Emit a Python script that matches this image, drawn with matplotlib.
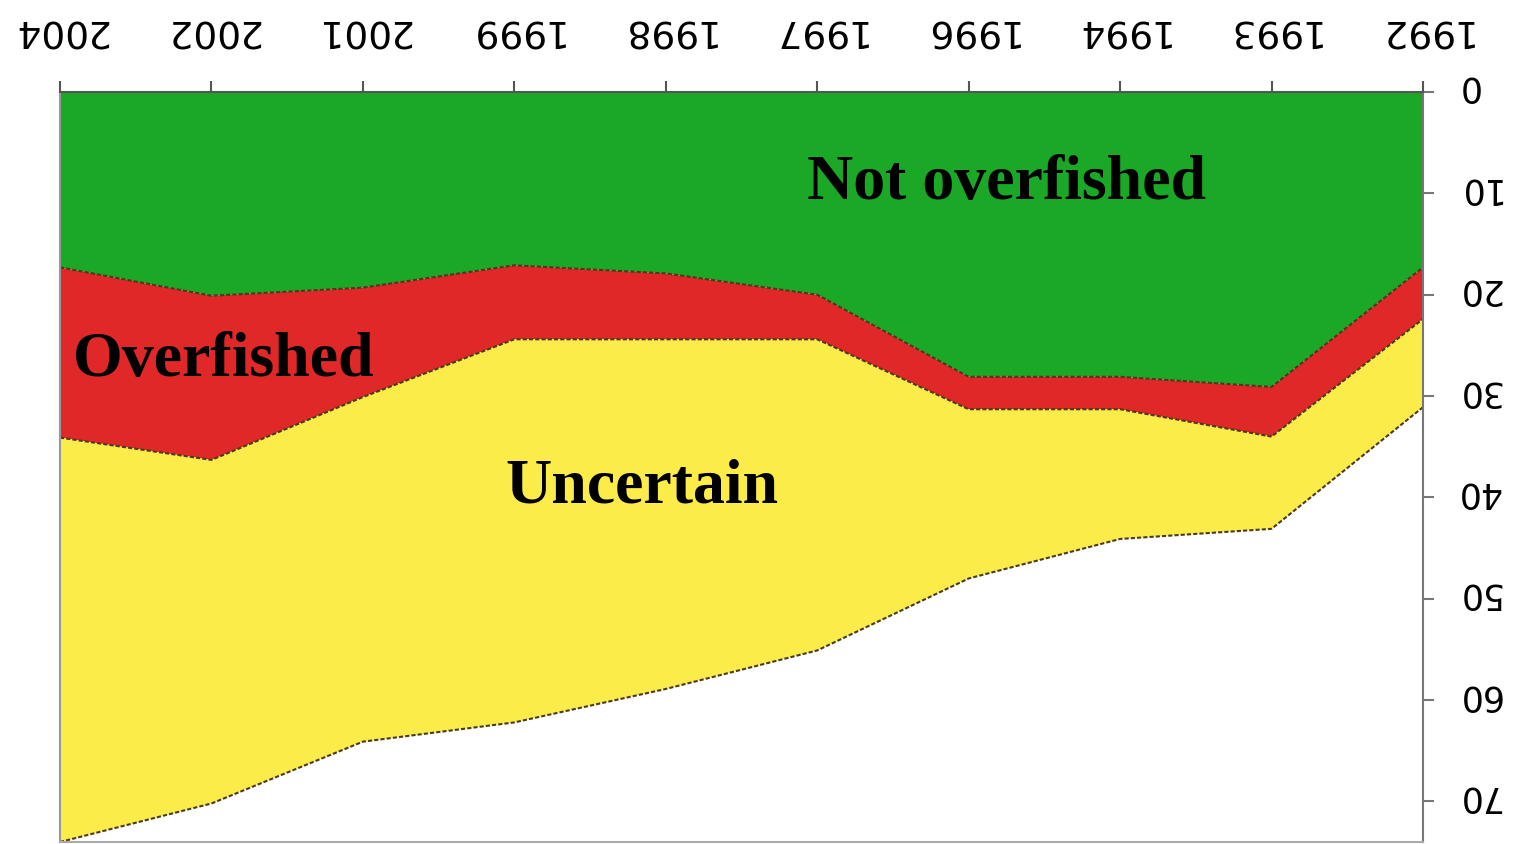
import matplotlib
matplotlib.use("Agg")
import matplotlib.pyplot as plt
import matplotlib.transforms as mtransforms
import numpy as np

years = ["2004", "2002", "2001", "1999", "1998", "1997", "1996", "1994", "1993", "1992"]
not_overfished = [17.3, 20.1, 19.3, 17.1, 17.9, 20.0, 28.1, 28.1, 29.1, 17.3]
overfished = [16.8, 16.2, 10.8, 7.3, 6.5, 4.4, 3.2, 3.2, 4.9, 5.1]
uncertain = [39.9, 33.9, 34.0, 37.8, 34.5, 30.7, 16.7, 12.8, 9.1, 8.7]
y_ticks = [0, 10, 20, 30, 40, 50, 60, 70]

green = "#1aa826"
red = "#e02828"
yellow = "#fbec4a"
edge = "#4a3a1a"

fig = plt.figure(figsize=(15.17, 8.45), dpi=100)
ax = fig.add_axes([60/1517, 1-843/845, (1423-60)/1517, (843-93)/845])

x = np.arange(len(years))
ax.stackplot(x, not_overfished, overfished, uncertain,
             colors=[green, red, yellow], linewidth=0)
c1 = np.array(not_overfished)
c2 = c1 + np.array(overfished)
c3 = c2 + np.array(uncertain)
for c in (c1, c2, c3):
    ax.plot(x, c, color=edge, lw=1.5, ls=(0, (2, 1)))

ax.set_xlim(0, len(years) - 1)
ax.set_ylim(74, 0)

ax.xaxis.tick_top()
ax.yaxis.tick_right()
ax.set_xticks(x)
ax.set_xticklabels(years, rotation=180, fontsize=27, family="DejaVu Sans",
                   va="bottom", ha="center")
ax.set_yticks(y_ticks)
ax.set_yticklabels([str(v) for v in y_ticks], rotation=180, fontsize=25,
                   family="DejaVu Sans", va="center", ha="left")
ax.tick_params(axis="x", direction="out", length=8, width=1.5, color="#555555", pad=25)
ax.tick_params(axis="y", direction="out", length=8, width=1.5, color="#777777", pad=16)

shift = mtransforms.ScaledTranslation(0, 6/100, fig.dpi_scale_trans)
for lab in ax.get_yticklabels():
    lab.set_transform(lab.get_transform() + shift)

for side, col in [("top", "#555555"), ("left", "#999999"), ("right", "#777777"), ("bottom", "#aaaaaa")]:
    ax.spines[side].set_color(col)
    ax.spines[side].set_linewidth(1.5)

tkw = dict(family="Liberation Serif", fontweight="bold", fontsize=46, color="black",
           ha="center", va="center")
ax.text(6.25, 9.0, "Not overfished", **tkw)
ax.text(1.08, 26.4, "Overfished", **tkw)
ax.text(3.84, 38.9, "Uncertain", **tkw)

fig.savefig("out.png", dpi=100)
